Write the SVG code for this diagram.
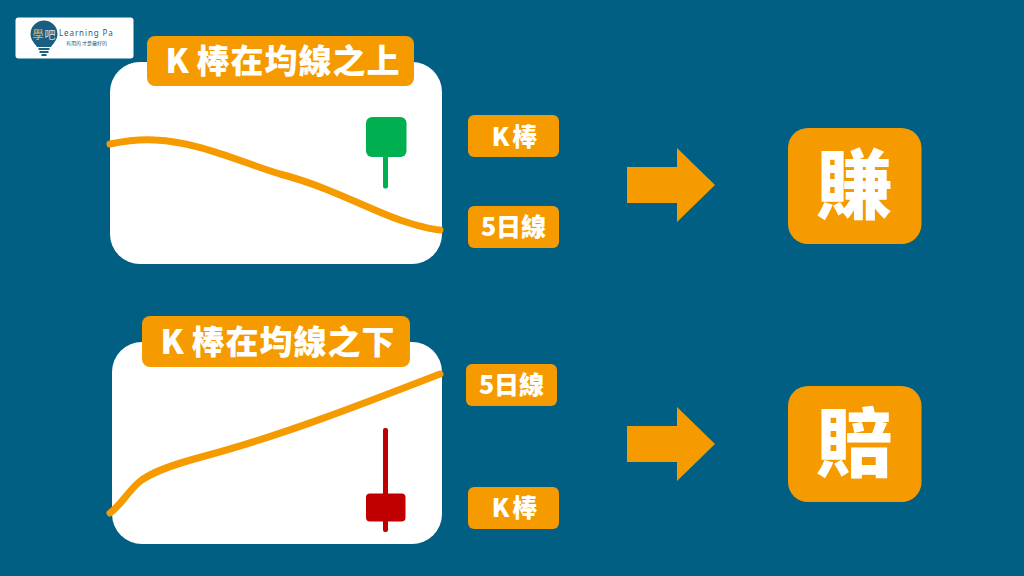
<svg xmlns="http://www.w3.org/2000/svg" width="1024" height="576" viewBox="0 0 1024 576">
<style>
.o{fill:#f59b00}
.t{font-family:"Noto Sans CJK TC","Noto Sans CJK SC",sans-serif;font-weight:900;fill:#fff;text-anchor:middle}
.title{font-size:33px;letter-spacing:1px;word-spacing:-2px}
.lab{font-size:25px;word-spacing:-3px}
.big{font-size:76px}
.panel{fill:#fff}
.curve{fill:none;stroke:#f59b00;stroke-width:7;stroke-linecap:round}
</style>
<rect width="1024" height="576" fill="#005f83"/>
<g id="logo">
<rect x="15.500" y="17.500" width="118" height="41" rx="3" fill="#fff"/>
<path d="M30.500 34a13.500 13.500 0 1 1 27 0c0 6-4 9-6.500 13h-14c-2.500-4-6.500-7-6.500-13z" fill="#1a5f80"/>
<rect x="38.500" y="48" width="11" height="2" fill="#1a5f80"/><rect x="39.500" y="51" width="9" height="2" fill="#1a5f80"/><rect x="41.500" y="54" width="5" height="2" fill="#1a5f80"/>
<text x="38" y="39" style="font-family:'Noto Sans CJK TC',sans-serif;font-size:11px" fill="#e9b35c" text-anchor="middle">學</text>
<text x="50" y="39" style="font-family:'Noto Sans CJK TC',sans-serif;font-size:11px" fill="#cfe0e8" text-anchor="middle">吧</text>
<text x="59" y="36" style="font-family:'Noto Sans',sans-serif;font-size:8px;letter-spacing:.9px" fill="#1a5f80">Learning Pa</text>
<text x="86.500" y="45" style="font-family:'Noto Sans CJK TC',sans-serif;font-size:5px" fill="#1a5f80" text-anchor="middle">有用的 才是最好的</text>
</g>
<g id="panel-top">
<rect class="panel" x="110" y="62" width="332" height="202" rx="30"/>
<rect x="383" y="150" width="5" height="38.500" rx="2" fill="#00b050"/>
<rect x="366" y="117" width="40.500" height="40" rx="6" fill="#00b050"/>
</g>
<g id="panel-bottom">
<rect class="panel" x="112" y="342" width="330" height="202" rx="30"/>
<rect x="383" y="428" width="5" height="104" rx="2" fill="#c00000"/>
<rect x="366" y="493.500" width="39.500" height="28" rx="4" fill="#c00000"/>
</g>
<g id="connectors">
<path class="curve" d="M110 144C125 141 140 139 155 140C200 142 240 162 280 174C330 187 370 210 400 220C415 225 428 229 440 230"/>
<path class="curve" d="M110 513C120 506 127 493 138 483C150 472 175 464 205 456C280 436 360 405 440 374"/>
<polygon class="o" points="627,167 677,167 677,148 715,185 677,222 677,203 627,203"/>
<polygon class="o" points="627,426 677,426 677,407 715,444 677,481 677,462 627,462"/>
</g>
<g id="title-top"><rect class="o" x="147" y="36" width="267" height="50" rx="8"/><text class="t title" x="283" y="73">K 棒在均線之上</text></g>
<g id="title-bottom"><rect class="o" x="142" y="316" width="268" height="51" rx="8"/><text class="t title" x="278" y="354">K 棒在均線之下</text></g>
<g id="label-k-top"><rect class="o" x="468" y="115" width="91" height="42" rx="6"/><text class="t lab" x="514.500" y="146">K 棒</text></g>
<g id="label-5d-top"><rect class="o" x="468" y="206" width="91" height="42" rx="6"/><text class="t lab" x="513.500" y="236">5日線</text></g>
<g id="label-5d-bottom"><rect class="o" x="466" y="364" width="91" height="42" rx="6"/><text class="t lab" x="511.500" y="394">5日線</text></g>
<g id="label-k-bottom"><rect class="o" x="468" y="487" width="91" height="42" rx="6"/><text class="t lab" x="514.500" y="517">K 棒</text></g>
<g id="result-win"><rect class="o" x="788" y="128" width="133.500" height="116" rx="20"/><text class="t big" x="854.500" y="213">賺</text></g>
<g id="result-lose"><rect class="o" x="788" y="386" width="133.500" height="116" rx="20"/><text class="t big" x="854.500" y="471">賠</text></g>
</svg>
